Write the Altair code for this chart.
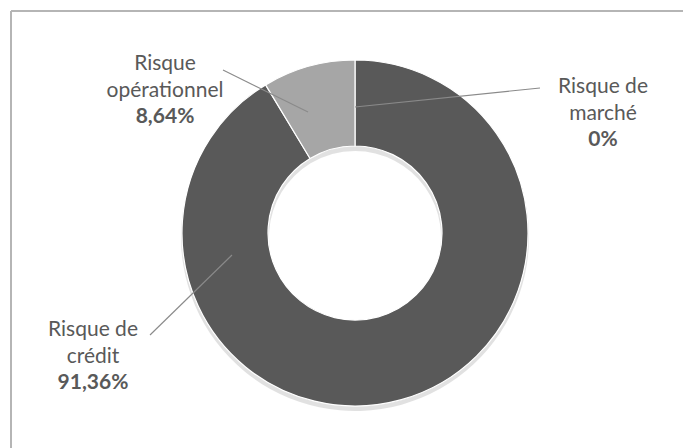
import altair as alt
import pandas as pd

# ---- data ----
categories = ["Risque de marché", "Risque de crédit", "Risque opérationnel"]
values = [0.0, 91.36, 8.64]
label_names = [["Risque de", "marché"], ["Risque de", "crédit"], ["Risque", "opérationnel"]]
slice_colors = ["#595959", "#595959", "#A6A6A6"]

def fmt_pct(v):
    s = ("%.2f" % v).rstrip("0").rstrip(".")
    return s.replace(".", ",") + "%"

df = pd.DataFrame({"cat": categories, "value": values, "idx": list(range(len(categories)))})

# ---- layout (pixels, relative to plot origin) ----
W, H = 672, 437
CX, CY = 344, 222
R_OUT, R_IN = 173, 87
FONT = "Lato"
FS = 21
LH = 26.5
TXT = "#595959"
label_pos = {  # x, y of first line
    "Risque de marché": (592, 76),
    "Risque de crédit": (82, 319),
    "Risque opérationnel": (154, 53),
}
leader = {
    "Risque de marché": (529, 77, 344, 96),
    "Risque de crédit": (139, 324, 221, 244),
    "Risque opérationnel": (212, 59, 297, 101),
}

one = pd.DataFrame({"a": [0]})

shadow = alt.Chart(df).mark_arc(radius=R_OUT + 1, radius2=R_IN - 1, color="#bdbdbd", opacity=0.45).encode(
    theta=alt.Theta("value:Q", stack=True),
    order=alt.Order("idx:Q"),
    x=alt.value(CX), y=alt.value(CY + 4),
)

arcs = alt.Chart(df).mark_arc(radius=R_OUT, radius2=R_IN, stroke="white", strokeWidth=1.2).encode(
    theta=alt.Theta("value:Q", stack=True),
    order=alt.Order("idx:Q"),
    color=alt.Color("cat:N", scale=alt.Scale(domain=categories, range=slice_colors), legend=None),
    x=alt.value(CX), y=alt.value(CY),
)

layers = [shadow, arcs]

for cat, v, names in zip(categories, values, label_names):
    x0, y0 = label_pos[cat]
    lx1, ly1, lx2, ly2 = leader[cat]
    layers.append(alt.Chart(one).mark_rule(color="#8a8a8a", strokeWidth=1.1).encode(
        x=alt.value(lx1), y=alt.value(ly1), x2=alt.value(lx2), y2=alt.value(ly2)))
    for i, line in enumerate(names + [fmt_pct(v)]):
        bold = i == len(names)
        layers.append(alt.Chart(one).mark_text(
            text=line, font=FONT, fontSize=FS, color=TXT, align="center", baseline="middle",
            fontWeight="bold" if bold else "normal",
        ).encode(x=alt.value(x0), y=alt.value(y0 + i * LH)))

# chart frame (top and left edges visible)
layers.append(alt.Chart(one).mark_rule(color="#b5b5b5", strokeWidth=2).encode(
    x=alt.value(0), x2=alt.value(W + 20), y=alt.value(0), y2=alt.value(0)))
layers.append(alt.Chart(one).mark_rule(color="#b5b5b5", strokeWidth=2).encode(
    x=alt.value(0), x2=alt.value(0), y=alt.value(0), y2=alt.value(H + 20)))

chart = alt.layer(*layers).properties(
    width=W, height=H,
    padding={"left": 11, "top": 11, "right": 0, "bottom": 0},
    autosize=alt.AutoSizeParams(type="none"),
    background="white",
).configure_view(stroke=None)

chart.save("out.html", embed_options={"renderer": "svg", "actions": False})
